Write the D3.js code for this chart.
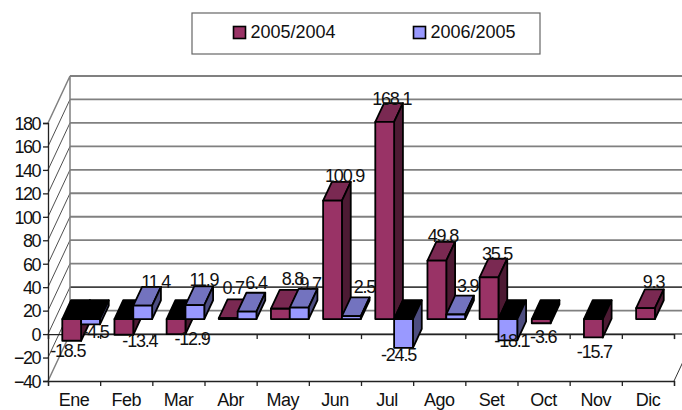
<!DOCTYPE html>
<html>
<head>
<meta charset="utf-8">
<script src="https://cdn.jsdelivr.net/npm/d3@7"></script>
<style>
  html, body { margin: 0; padding: 0; background: #fff; overflow: hidden; }
  svg { display: block; }
  text { font-family: "Liberation Sans", Arial, sans-serif; fill: #111; }
</style>
</head>
<body>
<div id="chart"></div>
<script>
var months = ["Ene", "Feb", "Mar", "Abr", "May", "Jun", "Jul", "Ago", "Set", "Oct", "Nov", "Dic"];
var seriesNames = ["2005/2004", "2006/2005"];
var values2005 = [-18.5, -13.4, -12.9, 0.7, 8.8, 100.9, 168.1, 49.8, 35.5, -3.6, -15.7, 9.3];
var values2006 = [-4.5, 11.4, 11.9, 6.4, 9.7, 2.5, -24.5, 3.9, -18.1, null, null, null];
var yTicks = [-40, -20, 0, 20, 40, 60, 80, 100, 120, 140, 160, 180];

var svgWidth = 682;
var svgHeight = 410;

// plot corners of the front plane, and how far the back wall is shifted
var left = 48, right = 674, top_ = 123, bottom = 381;
var wallX = 22, wallY = 47;
// bars stand in the middle of the floor
var depthFront = 0.32, depthBack = 0.72;

// label nudges, one [dx, dy] per month, away from the bar end
var nudge2005 = [[-4, 16], [16, 12], [16, 11], [5, -5], [12, -5], [12, 0], [7, 2], [6, 0], [8, 1], [2, 20], [1, 21], [8, -1]];
var nudge2006 = [[5, 14], [13, 1], [9, 0], [9, -4], [11, 1], [13, -4], [-5, 13], [12, -4], [4, 7]];

var colors = [
  { front: "#993366", top: "#7a2952", side: "#4d1a33" },
  { front: "#9999ff", top: "#7373bf", side: "#4d4d80" }
];

var svg = d3.select("#chart")
  .append("svg")
  .attr("width", svgWidth)
  .attr("height", svgHeight);

var y = d3.scaleLinear().domain([-40, 180]).range([bottom, top_]);
var xBand = d3.scaleBand().domain(months).range([left, right]);
var xEdge = d3.scaleLinear().domain([0, 12]).range([left, right]);
var xInner = d3.scaleBand().domain([0, 1]).range([7.25, xBand.bandwidth() - 7.25]);

var line = d3.line();

function project(x, v, depth) {
  return [x + wallX * depth, y(v) - wallY * depth];
}

// Back wall gridlines
svg.append("g").selectAll("line")
  .data(yTicks)
  .enter()
  .append("line")
  .attr("x1", left + wallX)
  .attr("x2", svgWidth + 20)
  .attr("y1", d => y(d) - wallY)
  .attr("y2", d => y(d) - wallY)
  .attr("stroke", d => d === 0 ? "#404040" : "#808080")
  .attr("stroke-width", 1.8);

// Left wall
svg.append("g").selectAll("line")
  .data(yTicks.slice(1, -1))
  .enter()
  .append("line")
  .attr("x1", left)
  .attr("x2", left + wallX)
  .attr("y1", d => y(d))
  .attr("y2", d => y(d) - wallY)
  .attr("stroke", "#222")
  .attr("stroke-width", 0.8);

svg.append("path")
  .attr("d", line([project(left, -40, 0), project(left, -40, 1)]) + line([project(left, 180, 0), project(left, 180, 1), project(left, -40, 1)]))
  .attr("fill", "none")
  .attr("stroke", "#808080")
  .attr("stroke-width", 1.5);

svg.append("path")
  .attr("d", line([project(right, -40, 0), project(right, -40, 1)]))
  .attr("fill", "none")
  .attr("stroke", "#333")
  .attr("stroke-width", 1);

// Axes
var leftAxis = d3.axisLeft(y).tickValues(yTicks).tickSize(5).tickFormat(d3.format("d"));
var edgeAxis = d3.axisBottom(xEdge).tickValues(d3.range(13)).tickSize(5).tickFormat("");

var yAxisG = svg.append("g")
  .attr("transform", `translate(${left}, 0)`)
  .call(leftAxis);
yAxisG.selectAll("text")
  .attr("font-size", "18px")
  .style("letter-spacing", "-1.5px")
  .attr("x", -8)
  .attr("dy", "0.35em");

svg.append("g").attr("transform", `translate(0, ${y(-40)})`).call(edgeAxis);
svg.append("g").attr("transform", `translate(0, ${y(0)})`).call(edgeAxis);

svg.selectAll(".domain, .tick line")
  .attr("stroke", "#222")
  .attr("stroke-width", 1.3);

svg.append("g").selectAll("text")
  .data(months)
  .enter()
  .append("text")
  .attr("x", d => xBand(d) + xBand.bandwidth() / 2)
  .attr("y", 406)
  .attr("text-anchor", "middle")
  .attr("font-size", "18px")
  .style("letter-spacing", "-0.5px")
  .text(d => d);

// Bars, left to right so that the nearer faces overlap properly
var barsG = svg.append("g");

function face(points, fill) {
  barsG.append("path")
    .attr("d", line(points) + "Z")
    .attr("fill", fill)
    .attr("stroke", "#000")
    .attr("stroke-width", 1.8)
    .attr("stroke-linejoin", "round");
}

function drawBar(month, s, v) {
  var x0 = xBand(month) + xInner(s);
  var x1 = x0 + xInner.bandwidth();
  var c = colors[s];
  var high = Math.max(v, 0);
  var low = Math.min(v, 0);
  // the top of a bar hanging below zero shows black
  face([project(x0, high, depthFront), project(x0, high, depthBack), project(x1, high, depthBack), project(x1, high, depthFront)], v < 0 ? "#000" : c.top);
  face([project(x1, high, depthFront), project(x1, high, depthBack), project(x1, low, depthBack), project(x1, low, depthFront)], c.side);
  face([project(x0, high, depthFront), project(x1, high, depthFront), project(x1, low, depthFront), project(x0, low, depthFront)], c.front);
}

months.forEach(function(month, i) {
  drawBar(month, 0, values2005[i]);
  if (values2006[i] !== null) drawBar(month, 1, values2006[i]);
});

// Data labels
var labelG = svg.append("g");

function drawLabels(vals, s, nudges) {
  vals.forEach(function(v, i) {
    if (v === null) return;
    var month = months[i];
    var cx = xBand(month) + xInner(s) + xInner.bandwidth() / 2;
    var anchor = v >= 0 ? project(cx, v, depthBack) : project(cx, v, depthFront);
    labelG.append("text")
      .attr("x", cx + wallX * depthFront + nudges[i][0])
      .attr("y", anchor[1] + nudges[i][1])
      .attr("text-anchor", "middle")
      .attr("font-size", "18px")
      .style("letter-spacing", "-1.2px")
      .text(v);
  });
}

drawLabels(values2005, 0, nudge2005);
drawLabels(values2006, 1, nudge2006);

// Legend
var legend = svg.append("g");

legend.append("rect")
  .attr("x", 192)
  .attr("y", 13)
  .attr("width", 348)
  .attr("height", 41)
  .attr("fill", "#fff")
  .attr("stroke", "#666")
  .attr("stroke-width", 1.2);

seriesNames.forEach(function(name, i) {
  var lx = 233.5 + i * 180;
  legend.append("rect")
    .attr("x", lx)
    .attr("y", 26.5)
    .attr("width", 12)
    .attr("height", 12)
    .attr("fill", colors[i].front)
    .attr("stroke", "#000")
    .attr("stroke-width", 1.6);
  legend.append("text")
    .attr("x", lx + 17)
    .attr("y", 37.5)
    .attr("font-size", "18px")
    .text(name);
});
</script>
</body>
</html>
